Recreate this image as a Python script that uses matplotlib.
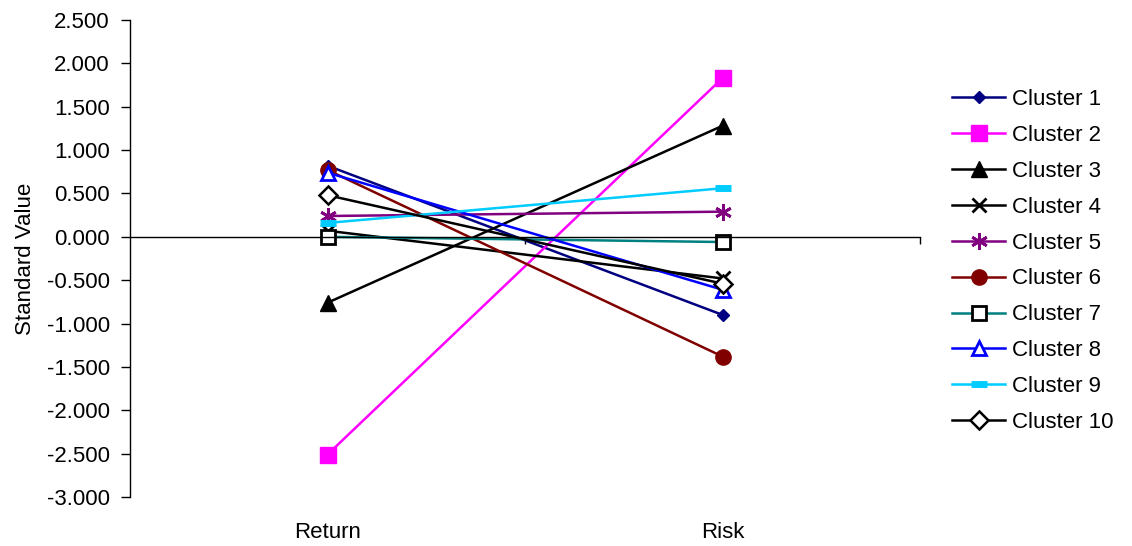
import matplotlib
matplotlib.use("Agg")
import matplotlib.pyplot as plt
from matplotlib.ticker import FormatStrFormatter, FixedLocator

plt.rcParams['font.family'] = ['Liberation Sans', 'DejaVu Sans']

categories = ["Return", "Risk"]
series_names = ["Cluster 1", "Cluster 2", "Cluster 3", "Cluster 4", "Cluster 5",
                "Cluster 6", "Cluster 7", "Cluster 8", "Cluster 9", "Cluster 10"]
cluster1 = [0.82, -0.90]
cluster2 = [-2.51, 1.83]
cluster3 = [-0.76, 1.28]
cluster4 = [0.07, -0.48]
cluster5 = [0.24, 0.29]
cluster6 = [0.77, -1.38]
cluster7 = [0.00, -0.06]
cluster8 = [0.74, -0.61]
cluster9 = [0.16, 0.56]
cluster10 = [0.48, -0.54]
values = [cluster1, cluster2, cluster3, cluster4, cluster5,
          cluster6, cluster7, cluster8, cluster9, cluster10]
y_ticks = [2.5, 2.0, 1.5, 1.0, 0.5, 0.0, -0.5, -1.0, -1.5, -2.0, -2.5, -3.0]

styles = [
    dict(color="#000080", marker="D", ms=6, mfc="#000080", mec="#000080"),
    dict(color="#FF00FF", marker="s", ms=11, mfc="#FF00FF", mec="#FF00FF"),
    dict(color="#000000", marker="^", ms=11, mfc="#000000", mec="#000000"),
    dict(color="#000000", marker="x", ms=10, mfc="none", mec="#000000", mew=2),
    dict(color="#800080", marker=(6, 2, 0), ms=12, mfc="none", mec="#800080", mew=2),
    dict(color="#800000", marker="o", ms=11, mfc="#800000", mec="#800000"),
    dict(color="#008080", marker="s", ms=10, mfc="white", mec="#000000", mew=2),
    dict(color="#0000FF", marker="^", ms=10, mfc="white", mec="#0000FF", mew=2),
    dict(color="#00CCFF", marker="_", ms=11, mfc="#00CCFF", mec="#00CCFF", mew=5),
    dict(color="#000000", marker="D", ms=9, mfc="white", mec="#000000", mew=1.8),
]

FS = 16

fig = plt.figure(figsize=(11.32, 5.46), dpi=100)
ax = fig.add_axes([130/1132, 1-497/546, (920-130)/1132, (497-20)/546])

x = list(range(len(categories)))
for name, vals, st in zip(series_names, values, styles):
    ax.plot(x, vals, label=name, lw=1.8, **st)

ax.set_xlim(-0.5, 1.5)
ax.set_ylim(-3.0, 2.5)
ax.set_yticks(y_ticks)
ax.yaxis.set_major_formatter(FormatStrFormatter('%.3f'))
ax.tick_params(axis='y', direction='out', length=6.5, width=1, labelsize=FS, pad=8)
ax.set_ylabel("Standard Value", fontsize=FS, labelpad=8)

for s in ["top", "right"]:
    ax.spines[s].set_visible(False)
ax.spines["bottom"].set_position(("data", 0))
ax.spines["bottom"].set_linewidth(1)
ax.spines["left"].set_linewidth(1)
ax.set_xticks(x)
ax.set_xticklabels(categories, fontsize=FS)
ax.xaxis.set_minor_locator(FixedLocator([0.5, 1.5]))
ax.tick_params(axis='x', which='major', length=0, pad=205)
ax.tick_params(axis='x', which='minor', direction='out', length=5, width=1)

leg = ax.legend(loc="upper left", bbox_to_anchor=(932/1132, 1-69/546),
                bbox_transform=fig.transFigure, frameon=False, fontsize=FS,
                handlelength=2.4, handletextpad=0.3, labelspacing=0.67)

fig.savefig("out.png", dpi=100)
